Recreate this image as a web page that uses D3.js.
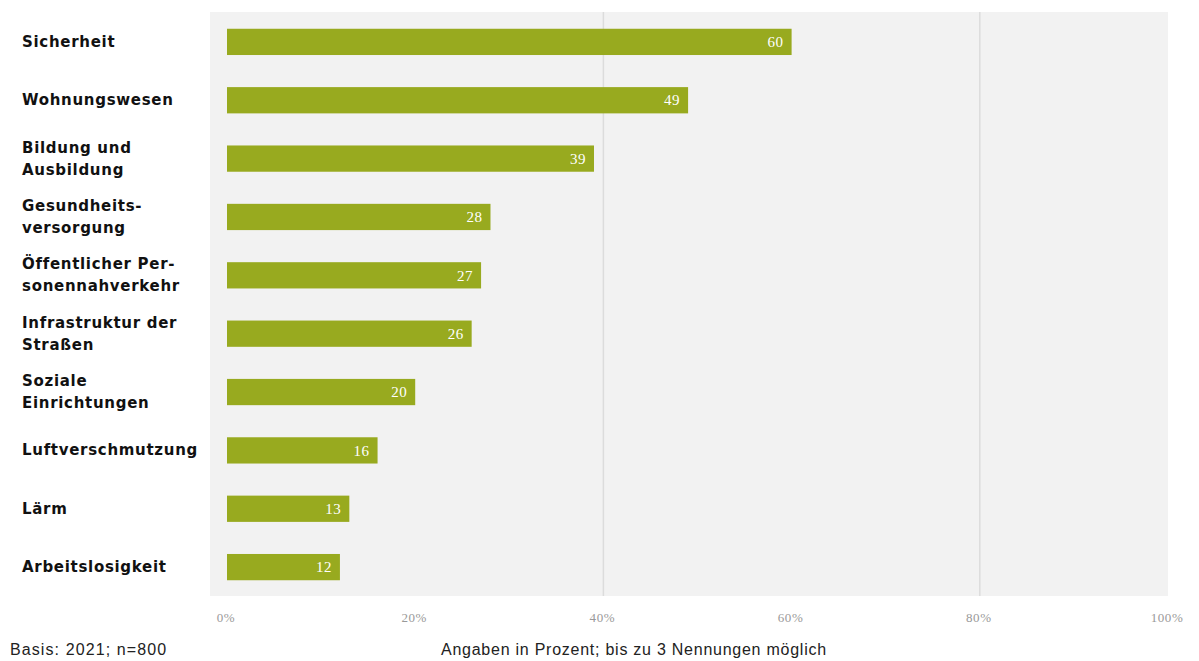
<!DOCTYPE html>
<html>
<head>
<meta charset="utf-8">
<script src="https://cdn.jsdelivr.net/npm/d3@7"></script>
<style>
  body { margin: 0; background: #fff; }
  svg { display: block; }
</style>
</head>
<body>
<div id="chart"></div>
<script>
const categories = [
    ["Sicherheit"],
    ["Wohnungswesen"],
    ["Bildung und", "Ausbildung"],
    ["Gesundheits-", "versorgung"],
    ["Öffentlicher Per-", "sonennahverkehr"],
    ["Infrastruktur der", "Straßen"],
    ["Soziale", "Einrichtungen"],
    ["Luftverschmutzung"],
    ["Lärm"],
    ["Arbeitslosigkeit"]
];
const values = [60, 49, 39, 28, 27, 26, 20, 16, 13, 12];
const ticks = [0, 20, 40, 60, 80, 100];
const gridTicks = [40, 80];

const width = 1199;
const height = 661;

const svg = d3.select("#chart")
    .append("svg")
    .attr("width", width)
    .attr("height", height);

// grey plot panel
svg.append("rect")
    .attr("x", 210)
    .attr("y", 12)
    .attr("width", 958)
    .attr("height", 584)
    .attr("fill", "#f2f2f2");

const xScale = d3.scaleLinear()
    .domain([0, 100])
    .range([227, 1168]);

const yScale = d3.scaleBand()
    .domain(d3.range(categories.length))
    .range([13, 596])
    .paddingInner(0.55)
    .paddingOuter(0.27);

// gridlines
svg.selectAll(".grid")
    .data(gridTicks)
    .enter()
    .append("line")
    .attr("x1", d => xScale(d))
    .attr("x2", d => xScale(d))
    .attr("y1", 12)
    .attr("y2", 596)
    .attr("stroke", "#dcdcdc")
    .attr("stroke-width", 1.5);

// bars
svg.selectAll(".bar")
    .data(values)
    .enter()
    .append("rect")
    .attr("x", xScale(0))
    .attr("y", (d, i) => yScale(i))
    .attr("width", d => xScale(d) - xScale(0))
    .attr("height", yScale.bandwidth())
    .attr("fill", "#98aa1f");

// value labels inside bars
svg.selectAll(".val")
    .data(values)
    .enter()
    .append("text")
    .text(d => d)
    .attr("x", d => xScale(d) - 8)
    .attr("y", (d, i) => yScale(i) + yScale.bandwidth() / 2)
    .attr("dy", "0.35em")
    .attr("text-anchor", "end")
    .attr("fill", "#fff")
    .style("font-family", "'Liberation Serif', serif")
    .style("font-size", "15px")
    .style("letter-spacing", "0.5px");

// category labels
const labels = svg.selectAll(".cat")
    .data(categories)
    .enter()
    .append("text")
    .attr("x", 22)
    .attr("y", (d, i) => yScale(i) + yScale.bandwidth() / 2 + 5 - (d.length - 1) * 11)
    .style("font-family", "'DejaVu Sans', Verdana, sans-serif")
    .style("font-weight", "bold")
    .style("font-size", "15px")
    .style("letter-spacing", "0.7px")
    .attr("fill", "#111");

labels.selectAll("tspan")
    .data(d => d)
    .enter()
    .append("tspan")
    .attr("x", 22)
    .attr("dy", (d, i) => i === 0 ? 0 : 22)
    .text(d => d);

// x axis tick labels
svg.selectAll(".tick")
    .data(ticks)
    .enter()
    .append("text")
    .text(d => d + "%")
    .attr("x", d => xScale(d) - 1)
    .attr("y", 622)
    .attr("text-anchor", "middle")
    .attr("fill", "#999")
    .style("font-family", "'Liberation Serif', serif")
    .style("font-size", "13px")
    .style("letter-spacing", "0.6px");

// footer notes
svg.append("text")
    .text("Basis: 2021; n=800")
    .attr("x", 10)
    .attr("y", 655)
    .attr("fill", "#222")
    .style("font-family", "'Liberation Sans', Arial, sans-serif")
    .style("font-size", "16px")
    .style("letter-spacing", "1.1px");

svg.append("text")
    .text("Angaben in Prozent; bis zu 3 Nennungen möglich")
    .attr("x", 441)
    .attr("y", 655)
    .attr("fill", "#222")
    .style("font-family", "'Liberation Sans', Arial, sans-serif")
    .style("font-size", "16px")
    .style("letter-spacing", "0.75px");
</script>
</body>
</html>
